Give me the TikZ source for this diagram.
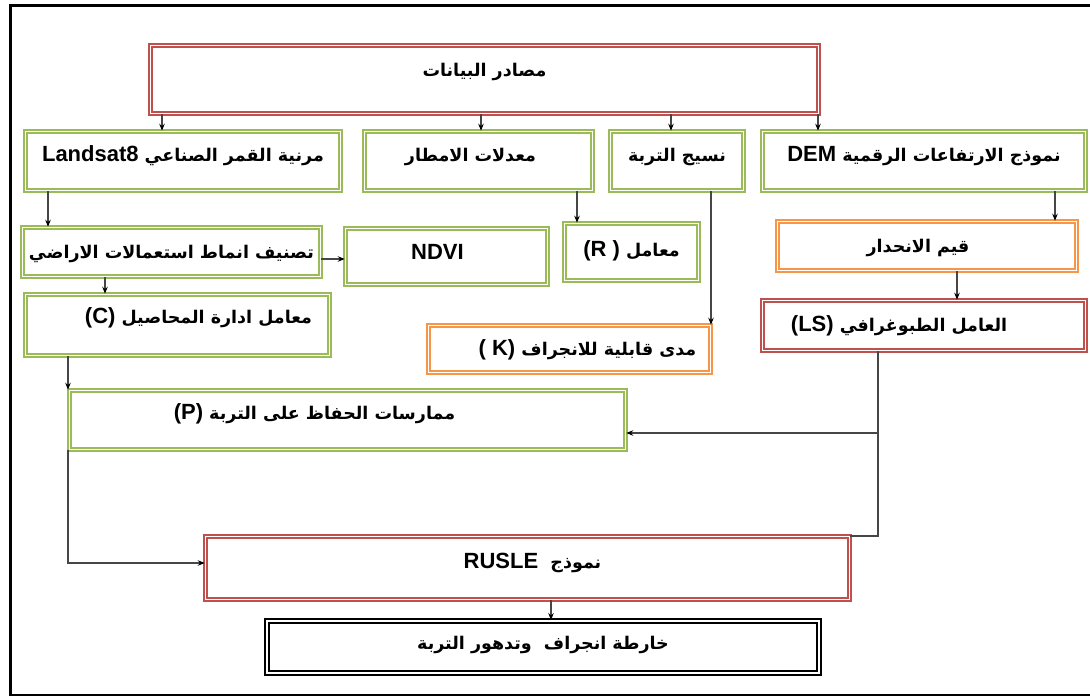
\documentclass[tikz,border=0pt]{standalone}
\usepackage{fontspec}
\newfontfamily\arabicfont[Script=Arabic]{DejaVu Sans}
\newfontfamily\latinfont{Liberation Sans}
\TeXXeTstate=1
\usetikzlibrary{arrows.meta}
\definecolor{boxred}{RGB}{192,80,77}
\definecolor{boxgreen}{RGB}{155,187,89}
\definecolor{boxorange}{RGB}{247,150,70}
\definecolor{linegray}{RGB}{70,70,70}
\newcommand{\artxt}[1]{{\arabicfont\bfseries\fontsize{17.5}{20}\selectfont\beginR #1\endR}}
\newcommand{\lat}[1]{\beginL{\latinfont\bfseries\fontsize{22}{24}\selectfont #1}\endL}
\newcommand{\padr}[1]{\hspace{#1}\null}

\begin{document}
\begin{tikzpicture}[x=1pt,y=-1pt,
  box/.style={draw=#1, line width=1.5pt, double=white, double distance=1.8pt,
    rectangle, inner sep=0pt, text height=16pt, text depth=4pt},
  arr/.style={draw=linegray, line width=1.5pt, -{Stealth[length=7pt,width=5.5pt,color=black]}},
  link/.style={draw=linegray, line width=1.5pt}]
\useasboundingbox (0,0) rectangle (1090,696);
\draw[line width=3pt] (1095,5) -- (10,5) -- (10,695) -- (1095,695);
\node[box=boxred, minimum width=668, minimum height=68, text depth=23pt] (src) at (484.5,79.5) {\artxt{مصادر البيانات}};
\node[box=boxgreen, minimum width=315, minimum height=59, text depth=16pt] (landsat) at (183,161) {\artxt{مرنية القمر الصناعي \lat{Landsat8}}};
\node[box=boxgreen, minimum width=228, minimum height=59, text depth=16pt] (rain) at (478.5,161) {\artxt{معدلات الامطار}\padr{16pt}};
\node[box=boxgreen, minimum width=133, minimum height=59, text depth=16pt] (soil) at (677,161) {\artxt{نسيج التربة}};
\node[box=boxgreen, minimum width=323, minimum height=59, text depth=16pt] (dem) at (924,161) {\artxt{نموذج الارتفاعات الرقمية \lat{DEM}}};
\node[box=boxgreen, minimum width=298, minimum height=49] (landuse) at (171.5,252) {\artxt{تصنيف انماط استعمالات الاراضي}};
\node[box=boxgreen, minimum width=202, minimum height=56, text depth=11pt] (ndvi) at (446.5,256.5) {\lat{NDVI}\padr{18pt}};
\node[box=boxgreen, minimum width=134, minimum height=57, text depth=8pt] (rfac) at (631.5,252) {\artxt{معامل \lat{(R )}}};
\node[box=boxorange, minimum width=299, minimum height=49] (slope) at (927,246) {\artxt{قيم الانحدار}\padr{18pt}};
\node[box=boxgreen, minimum width=304, minimum height=61, text depth=20pt] (cfac) at (177.5,325) {\hspace{42pt}\artxt{معامل ادارة المحاصيل \lat{(C)}}};
\node[box=boxorange, minimum width=282, minimum height=47] (kfac) at (569.5,349) {\hspace{36pt}\artxt{مدى قابلية للانجراف \lat{( K)}}};
\node[box=boxred, minimum width=323, minimum height=50] (ls) at (924,325.5) {\artxt{العامل الطبوغرافي \lat{(LS)}}\padr{50pt}};
\node[box=boxgreen, minimum width=556, minimum height=59, text depth=18pt] (pfac) at (347.5,420) {\artxt{ممارسات الحفاظ على التربة \lat{(P)}}\padr{66pt}};
\node[box=boxred, minimum width=644, minimum height=63, text depth=16pt] (rusle) at (527.5,568) {\hspace{10pt}\artxt{نموذج \ \lat{RUSLE}}};
\node[box=black, line width=1.8pt, double distance=2pt, minimum width=552, minimum height=52, text depth=12pt] (map) at (543,647) {\artxt{خارطة انجراف \ وتدهور التربة}};
\draw[arr] (162,0 |- src.south) -- (162,0 |- landsat.north);
\draw[arr] (481,0 |- src.south) -- (481,0 |- rain.north);
\draw[arr] (671,0 |- src.south) -- (671,0 |- soil.north);
\draw[arr] (818,0 |- src.south) -- (818,0 |- dem.north);
\draw[arr] (48,0 |- landsat.south) -- (48,0 |- landuse.north);
\draw[arr] (landuse.east |- 0,259) -- (ndvi.west |- 0,259);
\draw[arr] (577,0 |- rain.south) -- (577,0 |- rfac.north);
\draw[arr] (711,0 |- soil.south) -- (711,0 |- kfac.north);
\draw[arr, line width=2.4pt] (1055,0 |- dem.south) -- (1055,0 |- slope.north);
\draw[arr, line width=2.4pt] (957,0 |- slope.south) -- (957,0 |- ls.north);
\draw[arr] (105,0 |- landuse.south) -- (105,0 |- cfac.north);
\draw[arr] (68,0 |- cfac.south) -- (68,0 |- pfac.north);
\draw[arr] (878,0 |- ls.south) -- (878,433) -- (pfac.east |- 0,433);
\draw[link] (878,433) -- (878,0 |- rusle.north) -- (rusle.north east);
\draw[arr] (68,0 |- pfac.south) -- (68,563) -- (rusle.west |- 0,563);
\draw[arr] (551,0 |- rusle.south) -- (551,0 |- map.north);
\end{tikzpicture}
\end{document}
